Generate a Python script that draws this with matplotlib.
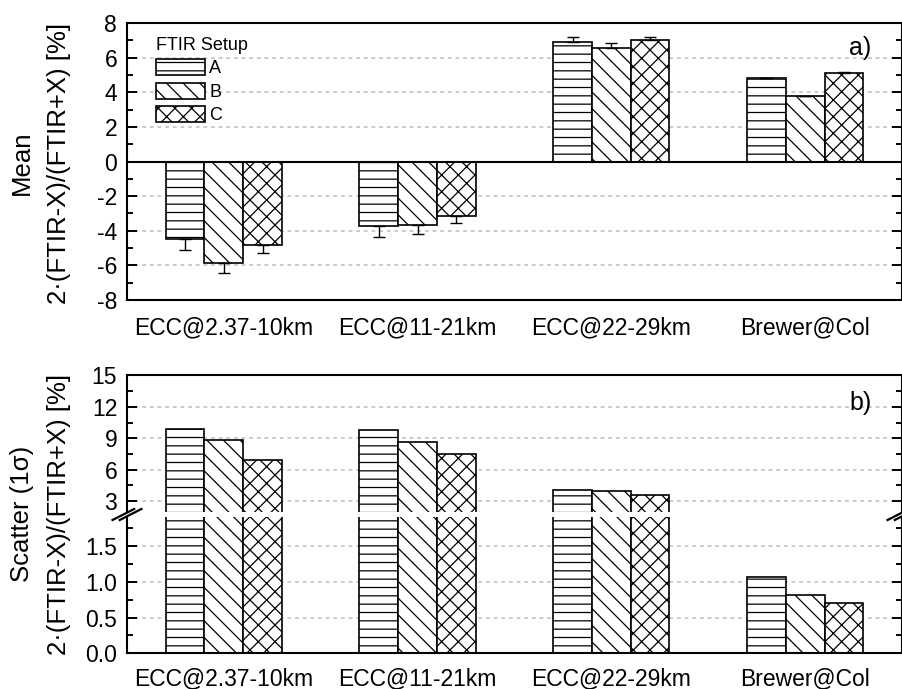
import matplotlib
matplotlib.use("Agg")
import matplotlib.pyplot as plt
import numpy as np
from matplotlib.ticker import MultipleLocator

plt.rcParams.update({
    "font.family": ["Liberation Sans", "DejaVu Sans"],
    "font.size": 16.5,
    "hatch.linewidth": 0.9,
    "hatch.color": "black",
    "axes.linewidth": 1.5,
    "axes.unicode_minus": False,
})

# ---------- data ----------
categories = ["ECC@2.37-10km", "ECC@11-21km", "ECC@22-29km", "Brewer@Col"]
setups = ["A", "B", "C"]
hatches = ["--", "\\\\", "xx"]

mean_A = [-4.50, -3.74, 6.92, 4.82]
mean_B = [-5.86, -3.66, 6.55, 3.77]
mean_C = [-4.84, -3.12, 6.99, 5.14]
err_A = [0.64, 0.63, 0.26, 0.02]
err_B = [0.58, 0.54, 0.29, 0.02]
err_C = [0.44, 0.46, 0.23, 0.03]

scatter_A = [9.89, 9.82, 4.05, 1.06]
scatter_B = [8.84, 8.62, 3.95, 0.82]
scatter_C = [6.96, 7.48, 3.63, 0.70]

means = [mean_A, mean_B, mean_C]
errs = [err_A, err_B, err_C]
scatters = [scatter_A, scatter_B, scatter_C]

x = np.arange(len(categories))
width = 0.2
offsets = [-width, 0.0, width]

GRID = dict(color="#bdbdbd", linestyle=(0, (2.5, 2.5)), linewidth=1.1)


def style_y(ax, major, minor, xpad=9):
    ax.yaxis.set_major_locator(MultipleLocator(major))
    ax.yaxis.set_minor_locator(MultipleLocator(minor))
    ax.tick_params(axis="y", which="both", direction="in", left=True,
                   right=True, labelright=False, width=1.4, pad=7)
    ax.tick_params(axis="y", which="major", length=7.5)
    ax.tick_params(axis="y", which="minor", length=4.5)
    ax.tick_params(axis="x", which="both", length=0, pad=xpad)
    ax.yaxis.grid(True, **GRID)
    ax.set_axisbelow(True)


fig = plt.figure(figsize=(9.03, 6.89), dpi=100)

# ==================== panel a ====================
ax1 = fig.add_axes([0.1406, 0.5646, 0.8583, 0.4020])
for i in range(3):
    vals = np.array(means[i])
    e = np.array(errs[i])
    lower = np.where(vals < 0, e, 0)
    upper = np.where(vals >= 0, e, 0)
    ax1.bar(x + offsets[i], vals, width, facecolor="white", edgecolor="black",
            linewidth=1.2, hatch=hatches[i], label=setups[i], zorder=2)
    ax1.errorbar(x + offsets[i], vals, yerr=[lower, upper], fmt="none",
                 ecolor="black", elinewidth=1.0, capsize=4, capthick=1.0,
                 zorder=3)
ax1.axhline(0, color="black", linewidth=1.5, zorder=4)
ax1.set_xlim(-0.5, 3.5)
ax1.set_ylim(-8, 8)
style_y(ax1, 2, 1, xpad=12)
ax1.set_xticks(x)
ax1.set_xticklabels(categories)
ax1.text(0.946, 0.91, "a)", transform=ax1.transAxes, ha="center",
         va="center", fontsize=18)
leg = ax1.legend(title="FTIR Setup", loc="upper left",
                 bbox_to_anchor=(0.028, 0.975), frameon=False, fontsize=13,
                 title_fontsize=13, handlelength=2.7, handleheight=1.0,
                 handletextpad=0.25, labelspacing=0.28, borderaxespad=0.0,
                 alignment="left")

# ==================== panel b (broken axis) ====================
ax_hi = fig.add_axes([0.1406, 0.2573, 0.8583, 0.1980])
ax_lo = fig.add_axes([0.1406, 0.0518, 0.8583, 0.1974])
for ax in (ax_hi, ax_lo):
    for i in range(3):
        ax.bar(x + offsets[i], scatters[i], width, facecolor="white",
               edgecolor="black", linewidth=1.2, hatch=hatches[i], zorder=2)
    ax.set_xlim(-0.5, 3.5)

ax_hi.set_ylim(2, 15)
ax_lo.set_ylim(0, 1.9)
style_y(ax_hi, 3, 1.5)
style_y(ax_lo, 0.5, 0.25, xpad=10)
ax_hi.spines["bottom"].set_visible(False)
ax_lo.spines["top"].set_visible(False)
ax_hi.set_xticks([])
ax_lo.set_xticks(x)
ax_lo.set_xticklabels(categories)
ax_lo.yaxis.set_major_formatter(plt.FormatStrFormatter("%.1f"))
ax_hi.text(0.946, 0.80, "b)", transform=ax_hi.transAxes, ha="center",
           va="center", fontsize=18)

# break marks "//" on both sides
y_mid = (0.2573 + 0.2492) / 2
for xc in (0.1406, 0.1406 + 0.8583):
    for dx in (-0.004, 0.004):
        fig.add_artist(plt.Line2D([xc + dx - 0.012, xc + dx + 0.012],
                                  [y_mid - 0.008, y_mid + 0.008],
                                  color="black", linewidth=1.6))

# y labels
fig.text(0.045, 1 - 163 / 689, "Mean\n2·(FTIR-X)/(FTIR+X) [%]",
         rotation=90, ha="center", va="center", multialignment="center",
         linespacing=1.7, fontsize=18.5)
fig.text(0.045, 1 - 514 / 689, "Scatter (1σ)\n2·(FTIR-X)/(FTIR+X) [%]",
         rotation=90, ha="center", va="center", multialignment="center",
         linespacing=1.7, fontsize=18.5)

fig.savefig("out.png", dpi=100)
